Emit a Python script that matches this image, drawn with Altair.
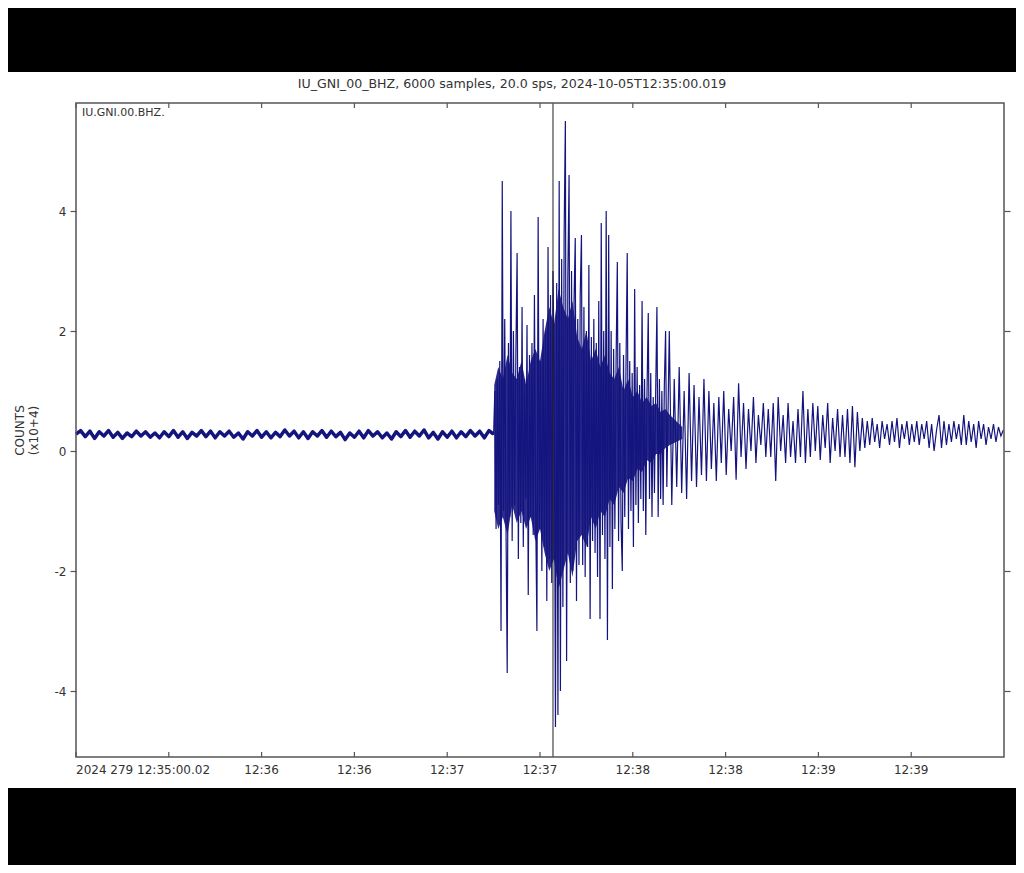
import altair as alt
import pandas as pd

# ---------------- data ----------------
TITLE = ["IU_GNI_00_BHZ, 6000 samples, 20.0 sps, 2024-10-05T12:35:00.019"]
STATION = ["IU.GNI.00.BHZ."]
Y_TITLE = ["COUNTS", "(x10+4)"]

# x: seconds after 2024-10-05T12:35:00.02 (300 s window)
TICK_SECS = [0, 30, 60, 90, 120, 150, 180, 210, 240, 270]
TICK_LABELS = ["2024 279 12:35:00.02", "", "12:36", "12:36", "12:37",
               "12:37", "12:38", "12:38", "12:39", "12:39"]
Y_TICKS = [-4, -2, 0, 2, 4]
PICK_SEC = [154.2]

# amplitude in units of 10^4 counts
PRE_START, PRE_STEP = 0.0, 1.5
PRE_VALUES = [
    0.28, 0.34, 0.24, 0.33, 0.21, 0.32, 0.25, 0.34, 0.23, 0.31,
    0.21, 0.30, 0.24, 0.33, 0.25, 0.32, 0.23, 0.30, 0.22, 0.32,
    0.24, 0.34, 0.23, 0.32, 0.21, 0.31, 0.25, 0.34, 0.24, 0.33,
    0.22, 0.32, 0.25, 0.33, 0.23, 0.30, 0.20, 0.32, 0.25, 0.34,
    0.23, 0.32, 0.22, 0.31, 0.24, 0.35, 0.25, 0.33, 0.22, 0.32,
    0.21, 0.32, 0.25, 0.34, 0.23, 0.33, 0.24, 0.31, 0.19, 0.30,
    0.23, 0.33, 0.22, 0.34, 0.25, 0.32, 0.22, 0.30, 0.20, 0.32,
    0.24, 0.34, 0.23, 0.33, 0.25, 0.35, 0.22, 0.31, 0.20, 0.32,
    0.23, 0.33, 0.22, 0.32, 0.24, 0.34, 0.25, 0.33, 0.22, 0.34,
    0.28,
]

MAIN_START, MAIN_STEP = 135.4, 0.4
MAIN_VALUES = [
    1.0, -1.3, 1.2, -0.9, 1.5, -3.0, 4.5, -1.0, 2.2, -1.2,
    -3.7, 1.8, -1.1, 4.0, -1.5, 2.0, -0.9, 1.6, 3.3, -1.8,
    1.4, -1.2, 2.4, -1.6, 1.2, -0.8, 2.1, -2.4, 1.6, -1.1,
    1.8, -1.4, 2.6, -1.0, -3.0, 3.9, -1.3, 1.5, -2.0, 2.2,
    -1.6, 2.0, -2.5, 3.4, -1.8, 2.6, -2.2, 3.0, 1.2, -4.6,
    2.8, -4.4, 4.5, -4.0, 3.2, -2.6, 3.6, 5.5, -3.5, 2.9,
    4.6, -2.2, 3.0, -2.0, 2.5, 3.55, -2.5, 2.2, -1.9, 2.6,
    3.6, -1.9, 2.4, -2.1, 2.0, -1.6, 3.1, -2.8, 1.9, -1.5,
    2.2, -1.7, 1.8, -2.1, 2.5, -2.8, 3.8, -1.4, 2.0, -1.8,
    4.0, -3.15, 3.6, -1.6, 2.0, -2.3, 1.7, -1.3, 1.5, 3.15,
    -1.5, 1.8, -1.2, -2.0, 1.6, -1.1, 1.4, 3.3, -1.3, 1.5,
    -1.0, 1.3, -1.6, 2.7, -0.9, 1.4, -1.2, 1.1, -0.8, 2.5,
    -1.0, 1.2, -1.4, 1.0, 2.3, -0.8, 1.3, -1.1, 0.9, -0.7,
    1.0, 2.4, -1.1, 1.2, -0.8, 1.0, -0.9, 1.1, 2.0, -0.6,
]

CODA_START, CODA_STEP = 191.8, 0.8
CODA_VALUES = [
    2.0, -0.9, 1.2, -0.6, 1.4, -0.7, 1.0, -0.8, 1.3, -0.5,
    1.1, -0.6, 0.9, -0.4, 1.2, -0.5, 1.0, -0.3, 0.8, -0.5,
    0.9, -0.2, 1.0, -0.4, 0.7, 0.0, 0.9, -0.48, 1.13, -0.1,
    0.8, -0.3, 0.7, 0.0, 0.9, -0.2, 0.6, 0.1, 0.8, -0.1,
    0.7, -0.1, 0.8, -0.5, 0.9, 0.0, 0.6, -0.2, 0.8, -0.1,
    0.5, -0.2, 0.7, -0.1, 1.0, -0.2, 0.7, -0.1, 0.8, 0.0,
    0.75, -0.15, 0.6, 0.05, 0.8, -0.2, 0.55, 0.0, 0.7, -0.1,
    0.6, -0.1, 0.7, -0.2, 0.75, -0.27, 0.65, 0.0, 0.55, 0.05,
    0.5, 0.1, 0.55, 0.15, 0.45, 0.05, 0.5, 0.2, 0.45, 0.1,
    0.5, 0.15, 0.55, 0.05, 0.45, 0.2, 0.5, 0.1, 0.45, 0.15,
    0.5, 0.1, 0.45, 0.2, 0.5, 0.05, 0.45, 0.0, 0.35, 0.6,
    0.05, 0.5, 0.1, 0.45, 0.15, 0.5, 0.2, 0.45, 0.1, 0.6,
    0.1, 0.5, 0.15, 0.45, 0.05, 0.5, 0.2, 0.45, 0.1, 0.4,
    0.2, 0.45, 0.15, 0.4, 0.25, 0.35,
]

# solid-looking core of the strong shaking (upper / lower edge of the dense band)
CORE_T = [135.2, 136.5, 138.0, 139.5, 141.0, 142.5, 144.0, 145.5, 147.0, 148.5,
          150.0, 151.5, 153.0, 154.5, 156.0, 157.5, 159.0, 160.5, 162.0, 163.5,
          165.0, 166.5, 168.0, 169.5, 171.0, 172.5, 174.0, 175.5, 177.0, 178.5,
          180.0, 181.5, 183.0, 184.5, 186.0, 187.5, 189.0, 190.5, 192.0, 194.0, 196.0]
CORE_HI = [1.1, 1.4, 1.2, 1.6, 1.3, 1.2, 1.5, 1.1, 1.5, 1.7,
           1.5, 2.0, 2.4, 2.1, 2.7, 2.4, 2.2, 2.5, 1.9, 1.7,
           2.0, 1.5, 1.7, 1.4, 1.6, 1.3, 1.2, 1.4, 1.0, 1.2,
           0.9, 1.0, 0.8, 0.9, 0.75, 0.8, 0.65, 0.7, 0.6, 0.5, 0.4]
CORE_LO = [-1.0, -1.3, -1.1, -1.4, -0.9, -1.2, -1.0, -1.3, -1.1, -1.5,
           -1.3, -1.7, -2.0, -1.8, -2.3, -2.0, -1.7, -2.1, -1.5, -1.4,
           -1.6, -1.1, -1.3, -1.0, -1.1, -0.8, -0.9, -0.6, -0.7, -0.45,
           -0.5, -0.3, -0.35, -0.15, -0.2, -0.05, -0.05, 0.05, 0.1, 0.15, 0.2]

# ---------------- build tables ----------------
rows = []
for seg, start, step, vals in [("pre", PRE_START, PRE_STEP, PRE_VALUES),
                               ("main", MAIN_START, MAIN_STEP, MAIN_VALUES),
                               ("coda", CODA_START, CODA_STEP, CODA_VALUES)]:
    for i, v in enumerate(vals):
        rows.append({"t": round(start + i * step, 3), "v": v, "seg": seg})
wave = pd.DataFrame(rows)
core = pd.DataFrame({"t": CORE_T, "hi": CORE_HI, "lo": CORE_LO})
ticks = pd.DataFrame({"t": TICK_SECS, "lab": TICK_LABELS, "i": range(len(TICK_SECS))})

W, H = 928, 654
FONT = "DejaVu Sans"
TXT = "#333333"
FRAME = "#555555"
WAVE = "#14147e"

x_scale = alt.Scale(domain=[0, 300], nice=False, zero=False)
y_scale = alt.Scale(domain=[-5.1, 5.8], nice=False, zero=False)

y_axis_left = alt.Axis(values=Y_TICKS, tickSize=6, tickColor=FRAME, tickWidth=1.2,
                       domain=False, grid=False, labelPadding=4, labelFontSize=12,
                       labelFont=FONT, labelColor=TXT, labelExpr="'' + datum.value",
                       title=Y_TITLE, titleFont=FONT,
                       titleFontSize=12, titleFontWeight="normal", titleColor=TXT,
                       titleAngle=270, titleX=-50, titleY=H / 2, titleAlign="center",
                       titleBaseline="bottom", zindex=1)
y_axis_right = alt.Axis(values=Y_TICKS, orient="right", tickSize=6, tickColor=FRAME,
                        tickWidth=1.2, domain=False, grid=False, labels=False,
                        title=None, zindex=1)

bg = alt.Chart(alt.Data(values=[{"k": 0}])).mark_rect(color="white").encode(
    x=alt.value(-68), x2=alt.value(W + 12), y=alt.value(-31), y2=alt.value(H + 31))

core_area = alt.Chart(core).mark_area(color=WAVE, opacity=0.9).encode(
    x=alt.X("t:Q", scale=x_scale, axis=None),
    y=alt.Y("hi:Q", scale=y_scale, axis=None),
    y2="lo:Q")

line_all = alt.Chart(wave).mark_line(color=WAVE, strokeWidth=1.2).encode(
    x=alt.X("t:Q", scale=x_scale, axis=None),
    y=alt.Y("v:Q", scale=y_scale, axis=y_axis_left),
    order="t:Q")

line_pre = alt.Chart(wave).transform_filter("datum.seg == 'pre'").mark_line(
    color=WAVE, strokeWidth=3.5, strokeJoin="round").encode(
    x=alt.X("t:Q", scale=x_scale, axis=None),
    y=alt.Y("v:Q", scale=y_scale, axis=y_axis_right),
    order="t:Q")

pick = alt.Chart(alt.Data(values=[{"t": p} for p in PICK_SEC])).mark_rule(
    color="#222222", strokeWidth=1).encode(
    x=alt.X("t:Q", scale=x_scale, axis=None), y=alt.value(0), y2=alt.value(H))

ticks_bottom = alt.Chart(ticks).mark_rule(color=FRAME, strokeWidth=1.2).encode(
    x=alt.X("t:Q", scale=x_scale, axis=None), y=alt.value(H), y2=alt.value(H - 5))
ticks_top = alt.Chart(ticks).mark_rule(color=FRAME, strokeWidth=1.2).encode(
    x=alt.X("t:Q", scale=x_scale, axis=None), y=alt.value(0), y2=alt.value(5))

first_label = alt.Chart(ticks).transform_filter("datum.i == 0").mark_text(
    font=FONT, fontSize=12, color=TXT, align="left", baseline="middle").encode(
    x=alt.X("t:Q", scale=x_scale, axis=None), y=alt.value(H + 13), text="lab:N")
other_labels = alt.Chart(ticks).transform_filter("datum.i > 0").mark_text(
    font=FONT, fontSize=12, color=TXT, align="center", baseline="middle").encode(
    x=alt.X("t:Q", scale=x_scale, axis=None), y=alt.value(H + 13), text="lab:N")

frame = alt.Chart(alt.Data(values=[{"k": 0}])).mark_rect(
    fillOpacity=0, stroke=FRAME, strokeWidth=1.5).encode(
    x=alt.value(0), x2=alt.value(W), y=alt.value(0), y2=alt.value(H))

title = alt.Chart(alt.Data(values=[{"txt": s} for s in TITLE])).mark_text(
    font=FONT, fontSize=12.6, color=TXT, align="center", baseline="middle").encode(
    text="txt:N", x=alt.value(436), y=alt.value(-19))

station = alt.Chart(alt.Data(values=[{"txt": s} for s in STATION])).mark_text(
    font=FONT, fontSize=11, color=TXT, align="left", baseline="middle").encode(
    text="txt:N", x=alt.value(6), y=alt.value(10))

chart = alt.layer(bg, core_area, line_all, line_pre, pick, ticks_bottom, ticks_top,
                  first_label, other_labels, frame, title, station).resolve_axis(
    y="independent").properties(
    width=W, height=H,
    padding={"left": 68, "top": 95, "right": 12, "bottom": 108},
    autosize=alt.AutoSizeParams(type="none"),
    background="black",
).configure_view(stroke=None)

chart.save("out.html", embed_options={"renderer": "svg", "actions": False})
